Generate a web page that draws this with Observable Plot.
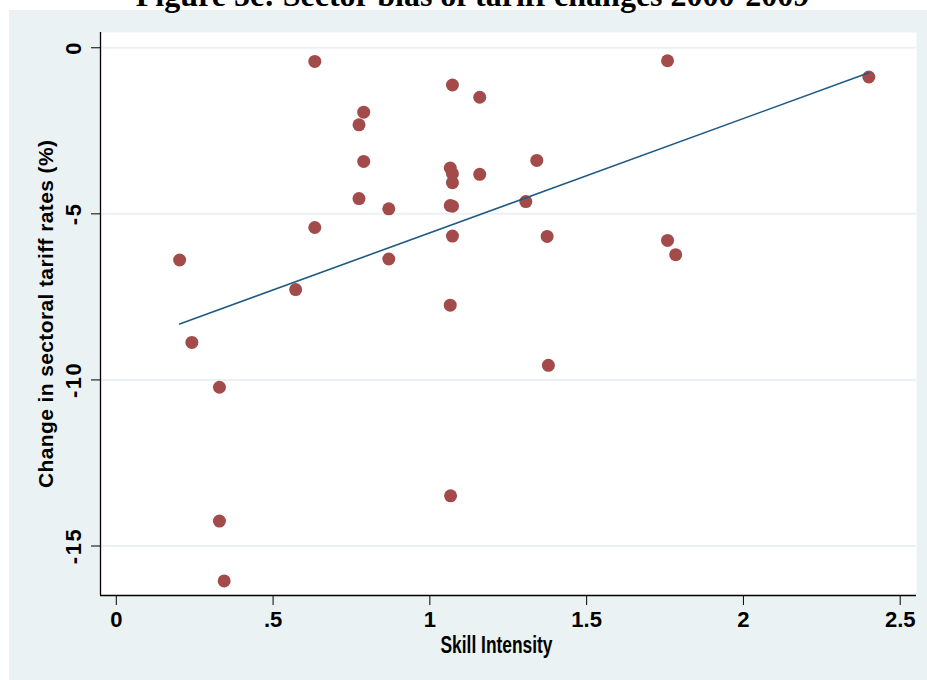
<!DOCTYPE html>
<html><head><meta charset="utf-8">
<script src="https://cdn.jsdelivr.net/npm/d3@7"></script>
<script src="https://cdn.jsdelivr.net/npm/@observablehq/plot@0.6"></script>
<style>
html,body{margin:0;padding:0;background:#fff;width:927px;height:680px;overflow:hidden;}
#bg{position:absolute;left:9px;top:10px;right:0;bottom:0;background:#EAF2F3;}
#chart{position:absolute;left:0;top:0;}
#chart svg{background:transparent;}
</style></head><body>
<div id="bg"></div>
<div id="chart"></div>
<script>
const title = "Figure 5c: Sector bias of tariff changes 2000-2009";
const xLabel = "Skill Intensity";
const yLabel = "Change in sectoral tariff rates (%)";

const skill = [0.202, 0.241, 0.329, 0.329, 0.344, 0.572, 0.633, 0.633, 0.774, 0.789, 0.789,
  0.774, 0.869, 0.869, 1.072, 1.159, 1.065, 1.072, 1.072, 1.065, 1.072, 1.072, 1.159,
  1.065, 1.066, 1.341, 1.306, 1.374, 1.378, 1.758, 1.758, 1.784, 2.400];
const tariffChange = [-6.39, -8.87, -10.22, -14.25, -16.05, -7.28, -0.41, -5.41, -2.32, -1.94, -3.42,
  -4.54, -4.85, -6.36, -1.12, -1.49, -3.62, -3.79, -4.06, -4.75, -4.77, -5.67, -3.81,
  -7.75, -13.49, -3.39, -4.63, -5.68, -9.56, -0.39, -5.80, -6.23, -0.88];

const xTicks = [0, 0.5, 1, 1.5, 2, 2.5];
const xTickLabels = ["0", ".5", "1", "1.5", "2", "2.5"];
const yTicks = [0, -5, -10, -15];
const yTickLabels = ["0", "-5", "-10", "-15"];
const xDomain = [-0.0504, 2.552];
const yDomain = [-16.49, 0.46];

const data = skill.map((s, i) => ({skill: s, change: tariffChange[i]}));

const sansB = "'Liberation Sans', Arial, sans-serif";
const markerColor = "#A34A4B";
const lineColor = "#1F5A85";
const gridColor = "#EAF2F3";

const chart = Plot.plot({
  width: 927,
  height: 680,
  marginLeft: 100,
  marginRight: 11,
  marginTop: 32,
  marginBottom: 85,
  style: {background: "transparent", overflow: "hidden"},
  x: {domain: xDomain, label: null},
  y: {domain: yDomain, label: null},
  marks: [
    Plot.frame({fill: "white", stroke: null}),
    Plot.gridY(yTicks, {stroke: gridColor, strokeOpacity: 1, strokeWidth: 2}),
    Plot.ruleX([xDomain[0]], {stroke: "black", strokeWidth: 1.3}),
    Plot.ruleY([yDomain[0]], {stroke: "black", strokeWidth: 1.3}),
    Plot.axisX({ticks: xTicks, tickSize: 10, tickPadding: 6, label: null,
      tickFormat: d => xTickLabels[xTicks.indexOf(d)],
      fontSize: 22, fontWeight: "bold", fontFamily: sansB, fill: "black"}),
    Plot.axisY({ticks: yTicks, tickSize: 9, label: null, tickFormat: () => ""}),
    Plot.text(yTicks, {frameAnchor: "left", y: d => d, text: (d, i) => yTickLabels[i],
      rotate: -90, dx: -27, textAnchor: "middle", lineAnchor: "middle",
      fontSize: 22, fontWeight: "bold", fontFamily: sansB, fill: "black"}),
    Plot.text([yLabel], {frameAnchor: "left", dx: -54, rotate: -90, textAnchor: "middle", lineAnchor: "middle",
      fontSize: 21, fontWeight: "bold", fontFamily: sansB, fill: "black"}),
    Plot.text([xLabel], {frameAnchor: "bottom", dy: 50, dx: -12, textAnchor: "middle", lineAnchor: "middle",
      fontSize: 23, fontWeight: "bold", fontFamily: sansB, fill: "black"}),
    Plot.text([title], {frameAnchor: "top", dy: -27, dx: -36, textAnchor: "middle", lineAnchor: "bottom",
      fontSize: 32, fontWeight: "bold", fontFamily: "'Liberation Serif', 'Times New Roman', serif", fill: "black"}),
    Plot.dot(data, {x: "skill", y: "change", r: 6.5, fill: markerColor, stroke: null}),
    Plot.linearRegressionY(data, {x: "skill", y: "change", stroke: lineColor, strokeWidth: 1.6, ci: 0})
  ]
});
document.getElementById("chart").appendChild(chart);

// fine-tune text lengths to match the reference's typesetting
const texts = d3.select(chart).selectAll("text");
texts.filter(function() { return this.textContent === xLabel; })
  .attr("textLength", 112).attr("lengthAdjust", "spacingAndGlyphs");
texts.filter(function() { return this.textContent === yLabel; })
  .attr("textLength", 348).attr("lengthAdjust", "spacing");
texts.filter(function() { return yTickLabels.includes(this.textContent) && this.getAttribute("transform") && this.getAttribute("transform").includes("rotate"); })
  .style("letter-spacing", "1.5px");
</script>
</body></html>
